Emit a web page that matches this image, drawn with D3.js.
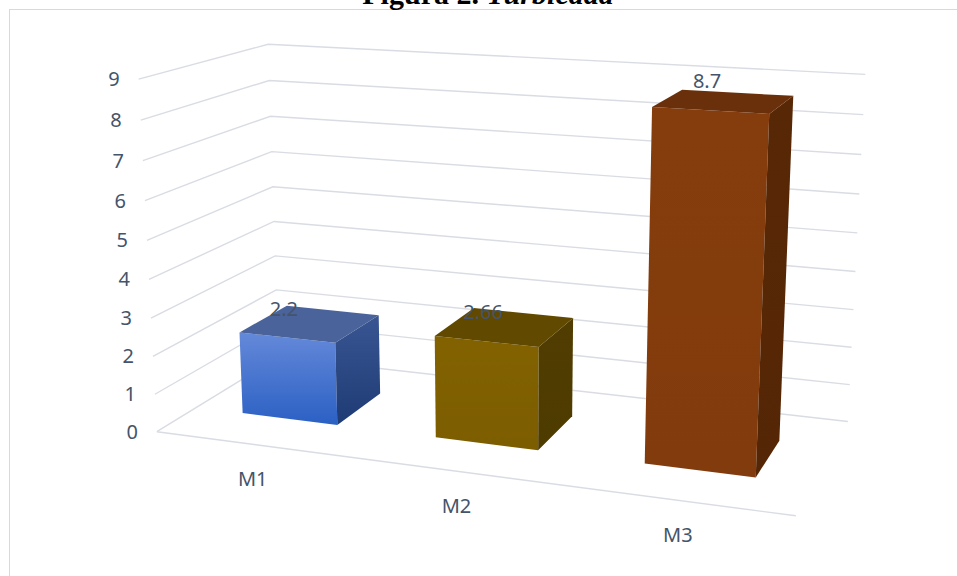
<!DOCTYPE html>
<html>
<head>
<meta charset="utf-8">
<script src="https://cdn.jsdelivr.net/npm/d3@7"></script>
<style>
  html, body { margin: 0; padding: 0; background: #ffffff; }
  svg { display: block; }
</style>
</head>
<body>
<script>
// ---- data ----
const categories = ["M1", "M2", "M3"];
const values = [2.2, 2.66, 8.7];
const valueLabels = ["2.2", "2.66", "8.7"];
const yTicks = [0, 1, 2, 3, 4, 5, 6, 7, 8, 9];
const yMax = 9;

// ---- bar colours (front top / front bottom / top face / side top / side bottom) ----
const frontTop    = ["#6489d9", "#826200", "#853d0d"];
const frontBottom = ["#2b60c4", "#7c5d00", "#823b0c"];
const topFace     = ["#4a639b", "#624900", "#6a300b"];
const sideTop     = ["#3a5692", "#513d00", "#582806"];
const sideBottom  = ["#1f3b76", "#4e3b00", "#552605"];

const W = 957, H = 576;
const textColor = "#44546a";
const gridColor = "#d9dce3";

// ---- perspective frame: world (x: 0..1 categories, y: 0..1 value, z: 0 front .. 1 back)
// anchored on the visible corners of the floor and walls (pixels)
const frameAnchors = [
  { w: [0, 0, 0], p: [157.0, 431.0] },
  { w: [1, 0, 0], p: [796.0, 516.0] },
  { w: [0, 0, 1], p: [278.0, 357.5] },
  { w: [1, 0, 1], p: [847.7, 421.3] },
  { w: [0, 1, 0], p: [138.3, 79.3] },
  { w: [0, 1, 1], p: [268.3, 44.0] },
  { w: [1, 1, 1], p: [865.0, 74.3] },
  { w: [0, 5 / 9, 0], p: [147.0, 240.7] },
  { w: [0, 5 / 9, 1], p: [273.3, 186.7] },
  { w: [1, 5 / 9, 1], p: [857.7, 233.0] }
];

// bar depth inside the floor (gap depth 150%)
const barZ0 = 0.3, barZ1 = 0.7;

// Solve the 3x4 projection matrix (last entry fixed to 1) by least squares
function solveProjection(anchors) {
  const rows = [], rhs = [];
  anchors.forEach(({ w: [X, Y, Z], p: [u, v] }) => {
    rows.push([X, Y, Z, 1, 0, 0, 0, 0, -u * X, -u * Y, -u * Z]); rhs.push(u);
    rows.push([0, 0, 0, 0, X, Y, Z, 1, -v * X, -v * Y, -v * Z]); rhs.push(v);
  });
  const n = 11;
  const M = Array.from({ length: n }, () => new Array(n + 1).fill(0));
  rows.forEach((r, k) => {
    for (let i = 0; i < n; i++) {
      for (let j = 0; j < n; j++) M[i][j] += r[i] * r[j];
      M[i][n] += r[i] * rhs[k];
    }
  });
  for (let c = 0; c < n; c++) {
    let piv = c;
    for (let r = c + 1; r < n; r++) if (Math.abs(M[r][c]) > Math.abs(M[piv][c])) piv = r;
    [M[c], M[piv]] = [M[piv], M[c]];
    for (let r = 0; r < n; r++) {
      if (r === c) continue;
      const f = M[r][c] / M[c][c];
      for (let j = c; j <= n; j++) M[r][j] -= f * M[c][j];
    }
  }
  const s = M.map((row, i) => row[n] / row[i]);
  return [s.slice(0, 4), s.slice(4, 8), [s[8], s[9], s[10], 1]];
}
const P = solveProjection(frameAnchors);
function project(x, y, z) {
  const h = [x, y, z, 1];
  const a = d3.sum(h, (v, i) => v * P[0][i]);
  const b = d3.sum(h, (v, i) => v * P[1][i]);
  const c = d3.sum(h, (v, i) => v * P[2][i]);
  return [a / c, b / c];
}

// ---- scales ----
const x = d3.scaleBand().domain(categories).range([0, 1]).paddingInner(0.5).paddingOuter(0.25);
const y = d3.scaleLinear().domain([0, yMax]).range([0, 1]);

const svg = d3.select("body").append("svg").attr("width", W).attr("height", H);

// chart area border
svg.append("rect")
  .attr("x", 9.5).attr("y", 9.5).attr("width", W + 20).attr("height", H + 20)
  .attr("fill", "none").attr("stroke", "#d9d9d9").attr("stroke-width", 1);

// title
const title = svg.append("text")
  .attr("x", 488).attr("y", 4)
  .attr("text-anchor", "middle")
  .attr("font-family", "'Liberation Serif', 'Times New Roman', serif")
  .attr("font-size", 30).attr("fill", "#000");
title.append("tspan").attr("font-weight", "bold").text("Figura 2. ");
title.append("tspan").attr("font-weight", "bold").attr("font-style", "italic").text("Turbiedad");

const line = d3.line();

// ---- gridlines on left and back walls ----
const grid = svg.append("g").attr("fill", "none").attr("stroke", gridColor).attr("stroke-width", 1.4);
yTicks.forEach(t => {
  const yy = y(t);
  grid.append("path").attr("d", line([project(0, yy, 0), project(0, yy, 1), project(1, yy, 1)]));
});
// floor front edge (category axis)
grid.append("path").attr("d", line([project(0, 0, 0), project(1, 0, 0)]));

// value axis labels
svg.append("g")
  .attr("font-family", "'Noto Sans', 'Open Sans', sans-serif")
  .attr("font-size", 20).attr("fill", textColor)
  .selectAll("text").data(yTicks).join("text")
  .attr("x", d => project(0, y(d), 0)[0] - 19)
  .attr("y", d => project(0, y(d), 0)[1])
  .attr("dy", "0.35em")
  .attr("text-anchor", "end")
  .text(d => d);

// category labels
svg.append("g")
  .attr("font-family", "'Noto Sans', 'Open Sans', sans-serif")
  .attr("font-size", 20).attr("fill", textColor)
  .selectAll("text").data(categories).join("text")
  .attr("x", d => project(x(d) + x.bandwidth() / 2, 0, 0)[0])
  .attr("y", d => project(x(d) + x.bandwidth() / 2, 0, 0)[1] + 35)
  .attr("dy", "0.35em")
  .attr("text-anchor", "middle")
  .text(d => d);

// ---- bars ----
const defs = svg.append("defs");
categories.forEach((c, i) => {
  const gf = defs.append("linearGradient").attr("id", "front" + i)
    .attr("x1", 0).attr("y1", 0).attr("x2", 0).attr("y2", 1);
  gf.append("stop").attr("offset", 0).attr("stop-color", frontTop[i]);
  gf.append("stop").attr("offset", 1).attr("stop-color", frontBottom[i]);
  const gs = defs.append("linearGradient").attr("id", "side" + i)
    .attr("x1", 0).attr("y1", 0).attr("x2", 0).attr("y2", 1);
  gs.append("stop").attr("offset", 0).attr("stop-color", sideTop[i]);
  gs.append("stop").attr("offset", 1).attr("stop-color", sideBottom[i]);
});

const bars = svg.append("g");
categories.forEach((c, i) => {
  const x0 = x(c), x1 = x(c) + x.bandwidth();
  const h = y(values[i]);
  const g = bars.append("g");
  // front face
  g.append("path")
    .attr("d", line([project(x0, 0, barZ0), project(x1, 0, barZ0), project(x1, h, barZ0), project(x0, h, barZ0)]) + "Z")
    .attr("fill", `url(#front${i})`);
  // right face
  g.append("path")
    .attr("d", line([project(x1, 0, barZ0), project(x1, 0, barZ1), project(x1, h, barZ1), project(x1, h, barZ0)]) + "Z")
    .attr("fill", `url(#side${i})`);
  // top face
  g.append("path")
    .attr("d", line([project(x0, h, barZ0), project(x1, h, barZ0), project(x1, h, barZ1), project(x0, h, barZ1)]) + "Z")
    .attr("fill", topFace[i]);
});

// data labels
svg.append("g")
  .attr("font-family", "'Noto Sans', 'Open Sans', sans-serif")
  .attr("font-size", 20).attr("fill", textColor)
  .selectAll("text").data(categories).join("text")
  .attr("x", (d, i) => project(x(d) + x.bandwidth() / 2, y(values[i]), barZ0)[0] - 3)
  .attr("y", (d, i) => project(x(d) + x.bandwidth() / 2, y(values[i]), barZ0)[1] - 29)
  .attr("dy", "0.35em")
  .attr("text-anchor", "middle")
  .text((d, i) => valueLabels[i]);
</script>
</body>
</html>
